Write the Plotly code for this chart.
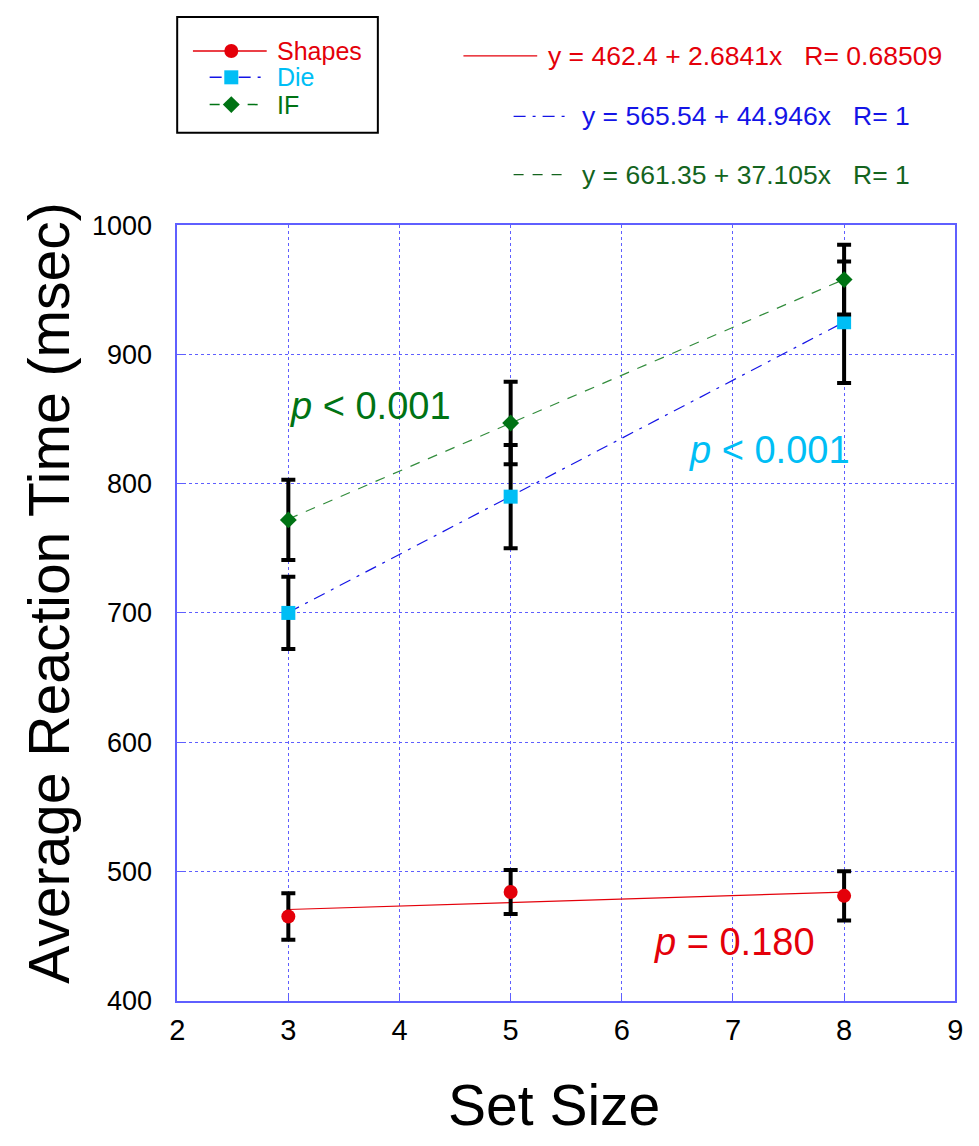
import plotly.graph_objects as go

W, H = 979, 1146

# ---------------- data ----------------
set_sizes = [3, 5, 8]

shapes_rt = [465, 484, 481]
shapes_err = [18, 17, 19]

die_rt = [700, 790, 925]
die_err = [28, 40, 47]

if_rt = [772, 847, 958]
if_err = [31, 32, 27]

series_names = ["Shapes", "Die", "IF"]
fit_intercepts = [462.4, 565.54, 661.35]
fit_slopes = [2.6841, 44.946, 37.105]
fit_r = ["0.68509", "1", "1"]
p_labels = ["= 0.180", "< 0.001", "< 0.001"]

x_ticks = [2, 3, 4, 5, 6, 7, 8, 9]
y_ticks = [400, 500, 600, 700, 800, 900, 1000]

# ---------------- styles ----------------
FONT = "Liberation Sans, Arial, sans-serif"
RED = "rgb(228,0,10)"
CYAN = "rgb(0,190,245)"
BLUE = "rgb(20,20,230)"
GREEN = "rgb(0,115,20)"
GREEN_LINE = "rgb(50,140,60)"
DARKGREEN = "rgb(20,100,30)"
GRID = "rgb(95,95,255)"

marker_colors = [RED, CYAN, GREEN]
line_colors = [RED, BLUE, GREEN_LINE]
line_dashes = ["solid", "12px,7px,3px,7px", "10px,9px"]
symbols = ["circle", "square", "diamond"]
sizes = [14, 14, 13]
eq_colors = [RED, BLUE, DARKGREEN]
p_colors = [RED, CYAN, GREEN]

# plot area in pixels
L, R_, T, B = 172, 963, 216, 1012

fig = go.Figure()

values = [shapes_rt, die_rt, if_rt]
errors = [shapes_err, die_err, if_err]

# fit lines
for i in range(3):
    xs = [min(set_sizes), max(set_sizes)]
    ys = [fit_intercepts[i] + fit_slopes[i] * x for x in xs]
    fig.add_trace(go.Scatter(
        x=xs, y=ys, mode="lines",
        line=dict(color=line_colors[i], width=1.2, dash=line_dashes[i]),
        showlegend=False, hoverinfo="skip", xaxis="x", yaxis="y"))

# data points with error bars
for i in range(3):
    fig.add_trace(go.Scatter(
        x=set_sizes, y=values[i], mode="markers",
        marker=dict(symbol=symbols[i], size=sizes[i], color=marker_colors[i],
                    line=dict(width=0)),
        error_y=dict(type="data", array=errors[i], visible=True,
                     color="black", thickness=4, width=7),
        showlegend=False, xaxis="x", yaxis="y"))

# ---------------- legend (overlay pixel axes) ----------------
leg_y = [37, 64, 92]
leg_line_x = [[188, 263], [205, 262], [205, 262]]
for i in range(3):
    fig.add_trace(go.Scatter(
        x=leg_line_x[i], y=[leg_y[i], leg_y[i]], mode="lines",
        line=dict(color=line_colors[i] if i != 2 else GREEN, width=1.5, dash=line_dashes[i]),
        showlegend=False, hoverinfo="skip", xaxis="x2", yaxis="y2"))
    fig.add_trace(go.Scatter(
        x=[227], y=[leg_y[i]], mode="markers",
        marker=dict(symbol=symbols[i], size=sizes[i], color=marker_colors[i]),
        showlegend=False, hoverinfo="skip", xaxis="x2", yaxis="y2"))

annotations = []
shapes = [dict(type="rect", xref="x2", yref="y2", x0=172, y0=2, x1=376, y1=121,
               line=dict(color="black", width=2), fillcolor="rgba(0,0,0,0)")]

for i in range(3):
    annotations.append(dict(
        x=271, y=leg_y[i], xref="x2", yref="y2", text=series_names[i],
        showarrow=False, xanchor="left", yanchor="middle",
        font=dict(family=FONT, size=25, color=p_colors[i])))

# equations
eq_y = [42, 104, 164]
eq_line_x = [[463, 538], [514, 570], [514, 570]]
eq_text_x = [547, 581, 581]
for i in range(3):
    fig.add_trace(go.Scatter(
        x=eq_line_x[i], y=[eq_y[i], eq_y[i]], mode="lines",
        line=dict(color=eq_colors[i], width=1.2, dash=line_dashes[i]),
        showlegend=False, hoverinfo="skip", xaxis="x2", yaxis="y2"))
    txt = "y = %s + %sx   R= %s" % (fit_intercepts[i], fit_slopes[i], fit_r[i])
    annotations.append(dict(
        x=eq_text_x[i], y=eq_y[i], xref="x2", yref="y2", text=txt,
        showarrow=False, xanchor="left", yanchor="middle",
        font=dict(family=FONT, size=26.5, color=eq_colors[i])))

# p-value labels
p_pos = [(655, 952), (690, 447), (285, 402)]
for i in range(3):
    annotations.append(dict(
        x=p_pos[i][0], y=p_pos[i][1], xref="x2", yref="y2",
        text="<i>p</i> " + p_labels[i].replace("<", "&lt;"),
        showarrow=False, xanchor="left", yanchor="middle",
        font=dict(family=FONT, size=38, color=p_colors[i])))

# axis titles
annotations.append(dict(x=42, y=594, xref="x2", yref="y2",
                        text="Average Reaction Time (msec)", textangle=-90,
                        showarrow=False, xanchor="center", yanchor="middle",
                        font=dict(family=FONT, size=57, color="black")))
annotations.append(dict(x=555, y=1119, xref="x2", yref="y2",
                        text="Set Size", showarrow=False,
                        xanchor="center", yanchor="middle",
                        font=dict(family=FONT, size=57, color="black")))

fig.update_layout(
    width=W, height=H,
    margin=dict(l=0, r=0, t=0, b=0),
    paper_bgcolor="white", plot_bgcolor="rgba(0,0,0,0)",
    showlegend=False,
    annotations=annotations, shapes=shapes,
    xaxis=dict(domain=[L / W, R_ / W], range=[2, 9], anchor="y",
               tickvals=x_ticks, ticks="inside", ticklen=7, tickcolor=GRID,
               showgrid=True, gridcolor=GRID, griddash="dot", gridwidth=1,
               showline=True, linecolor=GRID, linewidth=1.5, mirror=True,
               zeroline=False, ticklabelstandoff=3,
               tickfont=dict(family=FONT, size=29, color="black")),
    yaxis=dict(domain=[(H - B) / H, (H - T) / H], range=[400, 1000], anchor="x",
               tickvals=y_ticks, ticks="inside", ticklen=7, tickcolor=GRID,
               showgrid=True, gridcolor=GRID, griddash="dot", gridwidth=1,
               showline=True, linecolor=GRID, linewidth=1.5, mirror=True,
               zeroline=False, ticklabelstandoff=18,
               tickfont=dict(family=FONT, size=27, color="black")),
    xaxis2=dict(domain=[0, 1], range=[0, W], anchor="y2", visible=False,
                fixedrange=True),
    yaxis2=dict(domain=[0, 1], range=[H, 0], anchor="x2", visible=False,
                fixedrange=True),
)

fig.write_html(
    "out.html",
    config={"displayModeBar": False},
    post_script="document.body.style.margin='0';document.body.style.overflow='hidden';",
)
